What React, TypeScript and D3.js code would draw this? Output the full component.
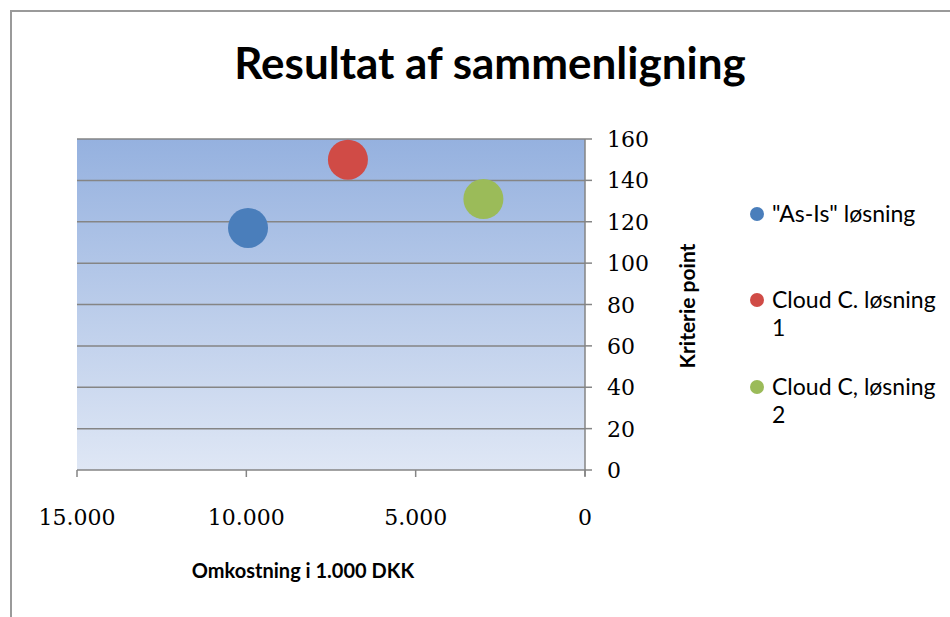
import React from "react";
import * as d3 from "d3";

const seriesNames = ['"As-Is" løsning', "Cloud C. løsning 1", "Cloud C, løsning 2"];
const legendLines = [['"As-Is" løsning'], ["Cloud C. løsning", "1"], ["Cloud C, løsning", "2"]];
const costValues = [9950, 7000, 3000];
const scoreValues = [117, 150, 131];
const bubbleSizes = [100, 100, 100];
const seriesColors = ["#4a7ebb", "#d04b46", "#9bbb59"];
const xTicks = [15000, 10000, 5000, 0];
const yTicks = [0, 20, 40, 60, 80, 100, 120, 140, 160];

const W = 950;
const H = 617;
const left = 77;
const right = 585;
const top = 139;
const bottom = 470;

const sans = "Lato, 'Open Sans', sans-serif";
const serif = "'DejaVu Serif', serif";

export default function App() {
  const x = d3.scaleLinear().domain([15000, 0]).range([left, right]);
  const y = d3.scaleLinear().domain([0, 160]).range([bottom, top]);
  const r = d3.scaleSqrt().domain([0, d3.max(bubbleSizes) as number]).range([0, 20]);
  const fmt = (v: number) => d3.format(",")(v).replace(/,/g, ".");

  return (
    <svg width={W} height={H} style={{ position: "absolute", left: 0, top: 0, background: "#fff" }}>
      <defs>
        <linearGradient id="plotBg" x1="0" y1="0" x2="0" y2="1">
          <stop offset="0%" stopColor="#95b1df" />
          <stop offset="100%" stopColor="#dfe7f5" />
        </linearGradient>
      </defs>
      <rect x={0} y={0} width={W} height={H} fill="#fff" />
      <path d={`M11,${H} L11,11 L${W},11`} fill="none" stroke="#9a9a9a" strokeWidth={2} />
      <text x={490} y={79} textAnchor="middle" fontFamily={sans} fontWeight="bold" fontSize={44} fill="#000">
        Resultat af sammenligning
      </text>
      <rect x={left} y={top} width={right - left} height={bottom - top} fill="url(#plotBg)" />
      {yTicks.filter((t) => t > 0).map((t) => (
        <line key={"g" + t} x1={left} x2={right} y1={y(t)} y2={y(t)} stroke="#858585" strokeWidth={1.5} />
      ))}
      <line x1={left} x2={right + 1} y1={bottom} y2={bottom} stroke="#858585" strokeWidth={1.5} />
      <line x1={right} x2={right} y1={top} y2={bottom + 6} stroke="#858585" strokeWidth={1.5} />
      {xTicks.map((t) => (
        <g key={"x" + t}>
          <line x1={x(t)} x2={x(t)} y1={bottom} y2={bottom + 7} stroke="#858585" strokeWidth={1.5} />
          <text x={x(t)} y={525} textAnchor="middle" fontFamily={serif} fontSize={22} fill="#000">
            {fmt(t)}
          </text>
        </g>
      ))}
      {yTicks.map((t) => (
        <g key={"y" + t}>
          <line x1={right} x2={right + 7} y1={y(t)} y2={y(t)} stroke="#858585" strokeWidth={1.5} />
          <text x={607} y={y(t) + 8} textAnchor="start" fontFamily={serif} fontSize={22} fill="#000">
            {t}
          </text>
        </g>
      ))}
      <text x={303} y={578} textAnchor="middle" fontFamily={sans} fontWeight="bold" fontSize={20} fill="#000">
        Omkostning  i 1.000 DKK
      </text>
      <text
        transform={`translate(695,306) rotate(-90)`}
        textAnchor="middle"
        fontFamily={sans}
        fontWeight="bold"
        fontSize={21}
        fill="#000"
      >
        Kriterie point
      </text>
      {costValues.map((c, i) => (
        <circle key={"b" + i} cx={x(c)} cy={y(scoreValues[i])} r={r(bubbleSizes[i])} fill={seriesColors[i]} />
      ))}
      {seriesNames.map((n, i) => {
        const ly = [214, 300, 387][i];
        return (
          <g key={"l" + i}>
            <circle cx={757} cy={ly} r={7} fill={seriesColors[i]} />
            {legendLines[i].map((line, j) => (
              <text key={j} x={772} y={ly + 8 + j * 28} fontFamily={sans} fontSize={23} fill="#000">
                {line}
              </text>
            ))}
          </g>
        );
      })}
    </svg>
  );
}
